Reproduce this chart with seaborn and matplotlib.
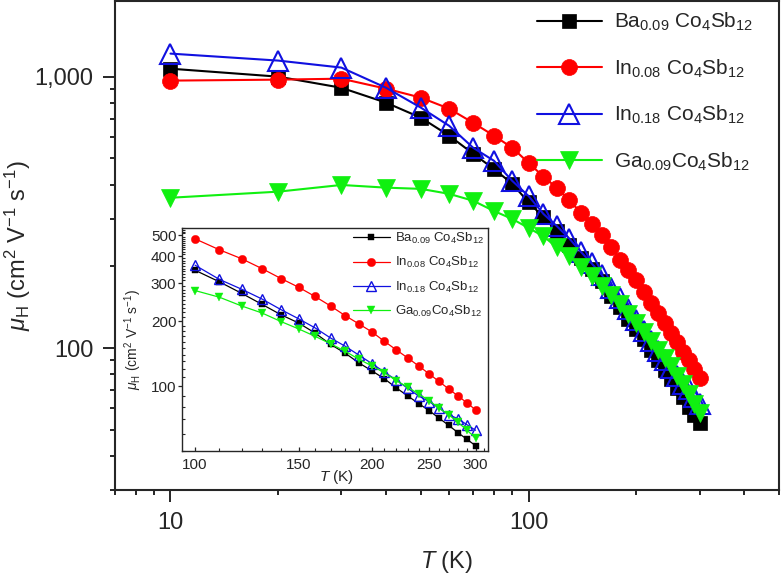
import numpy as np
import pandas as pd
import seaborn as sns
import matplotlib
matplotlib.use("Agg")
import matplotlib.pyplot as plt
from matplotlib.ticker import LogLocator, MultipleLocator, NullFormatter

# ---------------- data ----------------
T = [10, 20, 30, 40, 50, 60, 70, 80, 90, 100, 110, 120, 130, 140, 150,
     160, 170, 180, 190, 200, 210, 220, 230, 240, 250, 260, 270, 280, 290, 300]
mu_ba009 = [1070, 1000, 910, 802, 706, 606, 520, 457, 403, 344, 304, 269, 239, 214, 196,
            176, 156, 142, 128, 117.5, 108, 98, 90, 83, 77, 71, 65.8, 60.8, 56.7, 52.9]
mu_in008 = [967, 975, 983, 903, 837, 762, 676, 606, 547, 481, 428, 389, 350, 315, 287,
            260, 235, 212, 194, 178, 161, 147, 135, 124, 114, 105, 97, 90, 83.6, 77.6]
mu_in018 = [1216, 1146, 1080, 910, 769, 659, 547, 490, 413, 363, 312, 281, 253, 226, 205,
            186, 167, 153, 139, 127, 116, 106.5, 97.6, 90, 84.7, 79, 73.6, 70.6, 66.2, 62.4]
mu_ga009 = [358, 377, 399, 390, 386, 370, 349, 320, 299, 277, 258, 235, 218, 199, 184,
            170, 157, 145, 133, 124, 115, 106, 98.7, 92, 85.7, 79, 73.6, 68, 62.4, 57.5]

labels = [r"Ba$_{0.09}$ Co$_4$Sb$_{12}$",
          r"In$_{0.08}$ Co$_4$Sb$_{12}$",
          r"In$_{0.18}$ Co$_4$Sb$_{12}$",
          r"Ga$_{0.09}$Co$_4$Sb$_{12}$"]
series = [mu_ba009, mu_in008, mu_in018, mu_ga009]
colors = ["#000000", "#ff0000", "#1010e0", "#10f010"]
markers = ["s", "o", "^", "v"]
filled = [True, True, False, True]

main_xticks = [10, 100]
main_xticklabels = ["10", "100"]
main_yticks = [100, 1000]
main_yticklabels = ["100", "1,000"]
inset_xticks = [100, 150, 200, 250, 300]
inset_yticks = [100, 200, 300, 400, 500]

# ---------------- style ----------------
sns.set_style("ticks")
plt.rcParams["font.family"] = ["Liberation Sans", "DejaVu Sans"]
plt.rcParams["mathtext.fontset"] = "custom"
plt.rcParams["mathtext.rm"] = "Liberation Sans"
plt.rcParams["mathtext.it"] = "Liberation Sans:italic"
plt.rcParams["mathtext.bf"] = "Liberation Sans:bold"
plt.rcParams["axes.unicode_minus"] = True

W, H = 781, 575
fig = plt.figure(figsize=(W / 100, H / 100), dpi=100)

def px_axes(l, t, r, b):
    return [l / W, 1 - b / H, (r - l) / W, (b - t) / H]

ax = fig.add_axes(px_axes(115, 1, 779, 490))

main_ms = [9.5, 11.5, 15, 12.5]
for vals, lab, c, m, f, ms in zip(series, labels, colors, markers, filled, main_ms):
    df = pd.DataFrame({"T": T, "mu": vals})
    kw = dict(markerfacecolor=c if f else "none", markeredgecolor=c,
              markeredgewidth=1.5 if not f else 0.5)
    sns.lineplot(data=df, x="T", y="mu", ax=ax, color=c, marker=m, markersize=ms,
                 linewidth=1.5, label=lab, sort=False, **kw)

ax.set_xscale("log")
ax.set_yscale("log")
ax.set_xlim(7, 500)
ax.set_ylim(30, 1900)
ax.set_xticks(main_xticks, labels=main_xticklabels)
ax.set_yticks(main_yticks, labels=main_yticklabels)
ax.xaxis.set_minor_locator(LogLocator(base=10, subs=np.arange(2, 10)))
ax.yaxis.set_minor_locator(LogLocator(base=10, subs=np.arange(2, 10)))
ax.xaxis.set_minor_formatter(NullFormatter())
ax.yaxis.set_minor_formatter(NullFormatter())
ax.tick_params(which="major", direction="out", length=8.5, width=1.4, labelsize=17,
               top=False, right=False)
ax.tick_params(axis="x", which="major", pad=7)
ax.tick_params(axis="y", which="major", pad=7)
ax.tick_params(which="minor", direction="out", length=3.6, width=1.4, top=False, right=False)
for s in ax.spines.values():
    s.set_linewidth(1.5)
    s.set_visible(True)
ax.set_xlabel(r"$T$ (K)", fontsize=17, labelpad=11)
ax.set_ylabel(r"$\mu_{\mathrm{H}}$ (cm$^2$ V$^{-1}$ s$^{-1}$)", fontsize=17, labelpad=1)

ax.legend(loc="upper left", bbox_to_anchor=(537 / W, 1 - 11 / H),
          bbox_transform=fig.transFigure, frameon=False, fontsize=15,
          handlelength=3.1, handletextpad=0.62, labelspacing=1.16,
          borderpad=0, borderaxespad=0)

# ---------------- inset ----------------
axi = fig.add_axes(px_axes(182, 228, 488, 451))
T_in = [t for t in T if t >= 100]
inset_ms = [5, 6, 6.5, 6]
for vals, lab, c, m, f, ms in zip(series, labels, colors, markers, filled, inset_ms):
    v_in = [v for t, v in zip(T, vals) if t >= 100]
    df = pd.DataFrame({"T": T_in, "mu": v_in})
    kw = dict(markerfacecolor=c if f else "none", markeredgecolor=c,
              markeredgewidth=1.0 if not f else 0.3)
    sns.lineplot(data=df, x="T", y="mu", ax=axi, color=c, marker=m, markersize=ms,
                 linewidth=0.9, label=lab, sort=False, **kw)

axi.set_xscale("log")
axi.set_yscale("log")
axi.set_xlim(95, 315)
axi.set_ylim(50, 540)
axi.set_xticks(inset_xticks, labels=[str(v) for v in inset_xticks])
axi.set_yticks(inset_yticks, labels=[str(v) for v in inset_yticks])
axi.xaxis.set_minor_locator(MultipleLocator(10))
axi.yaxis.set_minor_locator(MultipleLocator(10))
axi.xaxis.set_minor_formatter(NullFormatter())
axi.yaxis.set_minor_formatter(NullFormatter())
axi.tick_params(axis="x", which="major", direction="in", length=3, width=0.9,
                labelsize=11, pad=5)
axi.tick_params(axis="x", which="minor", direction="in", length=2, width=0.8)
axi.tick_params(axis="y", which="major", direction="out", length=3, width=0.9,
                labelsize=11, pad=1)
axi.tick_params(axis="y", which="minor", direction="in", length=2, width=0.8)
for s in axi.spines.values():
    s.set_linewidth(1.0)
    s.set_visible(True)
axi.set_xlabel(r"$T$ (K)", fontsize=11)
axi.xaxis.set_label_coords(0.506, -0.078)
axi.set_ylabel(r"$\mu_{\mathrm{H}}$ (cm$^2$ V$^{-1}$ s$^{-1}$)", fontsize=10, labelpad=5)
axi.legend(loc="upper left", bbox_to_anchor=(353 / W, 1 - 231 / H),
           bbox_transform=fig.transFigure, frameon=False, fontsize=9.5,
           handlelength=2.8, handletextpad=0.4, labelspacing=0.7,
           borderpad=0, borderaxespad=0)

fig.savefig("out.png", dpi=100)
